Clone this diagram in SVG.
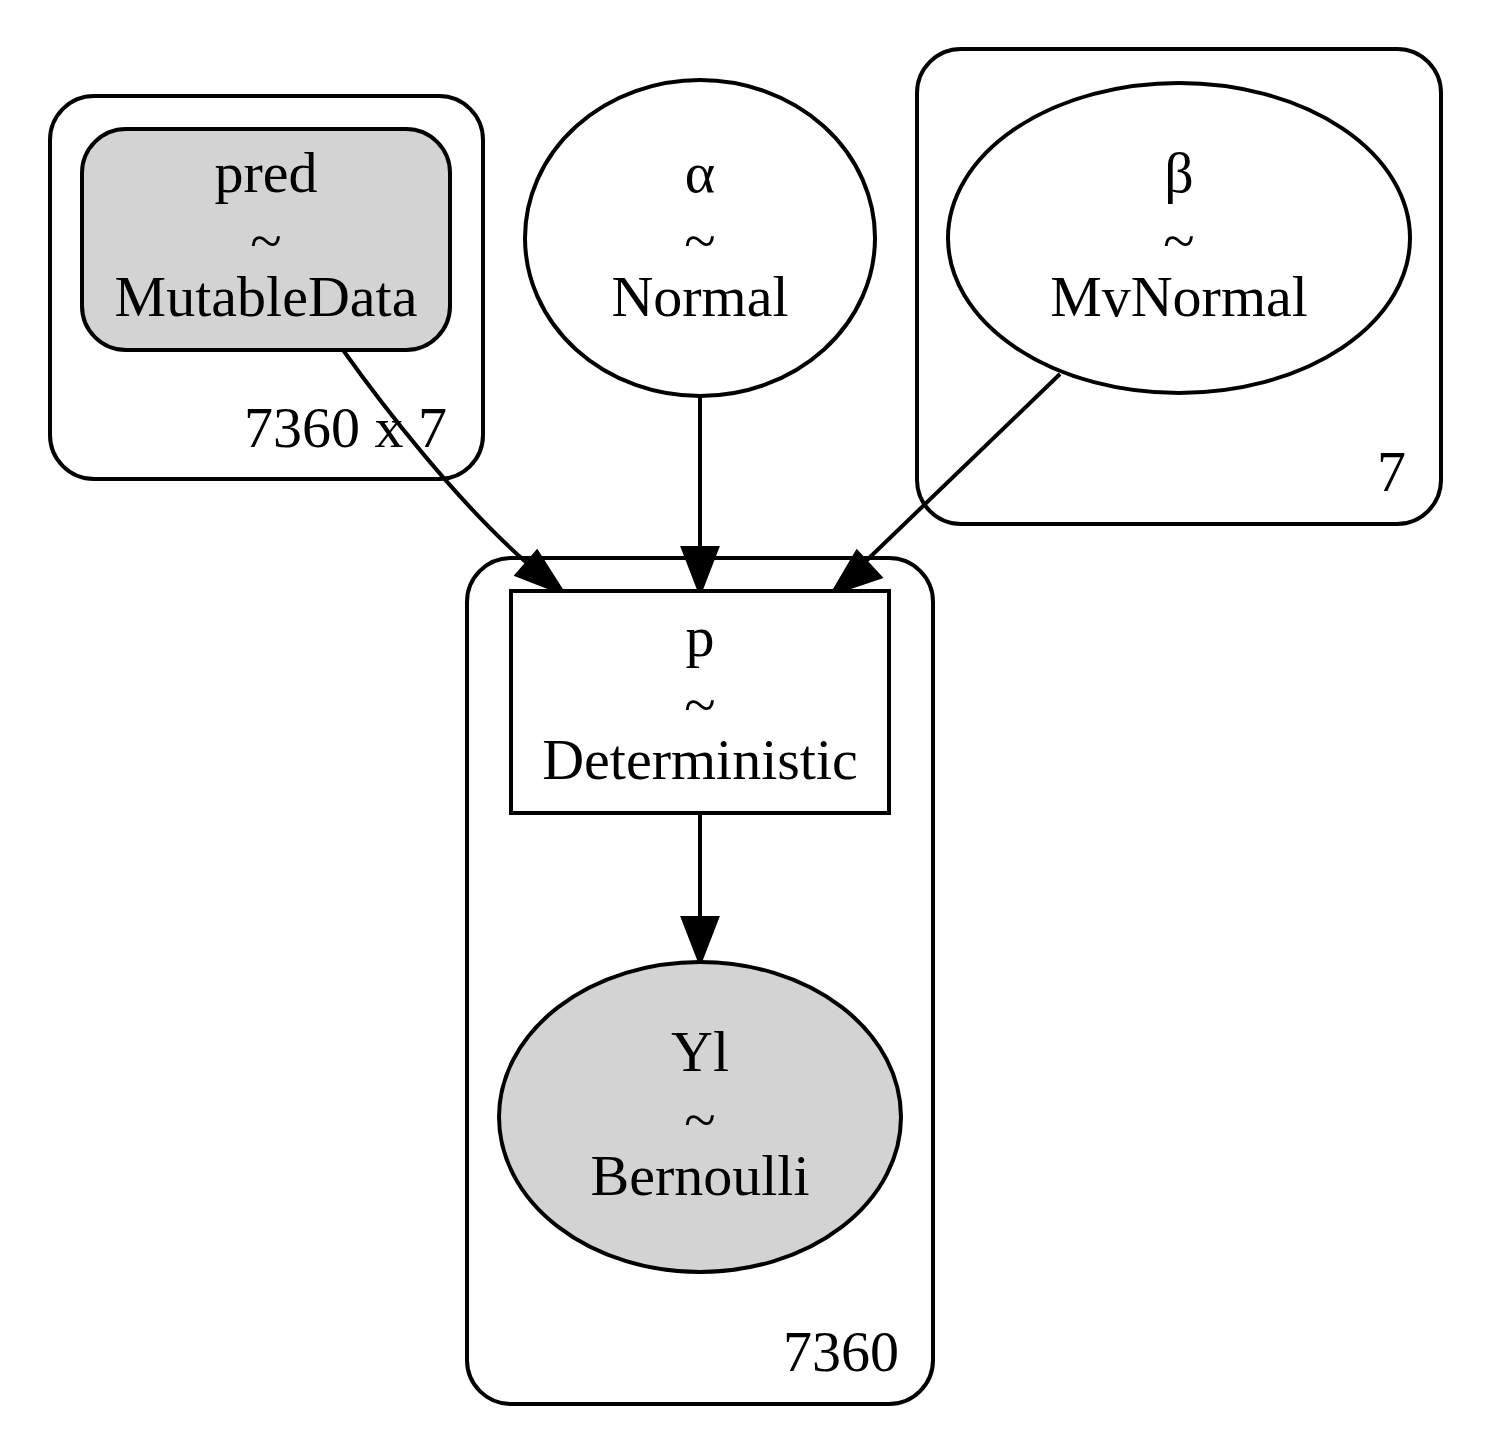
<svg xmlns="http://www.w3.org/2000/svg" width="1492" height="1454" viewBox="0 0 1492 1454">
<style>
.s{fill:none;stroke:#000;stroke-width:4}
.f{fill:#fff;stroke:#000;stroke-width:4}
.g{fill:#d3d3d3;stroke:#000;stroke-width:4}
.ah{fill:#000;stroke:#000;stroke-width:4}
text{font-family:"Liberation Serif","Times New Roman",serif;font-size:58px;fill:#000}
.c{text-anchor:middle}
.e{text-anchor:end}
</style>
<rect width="1492" height="1454" fill="#fff"/>
<g id="cluster_pred">
<rect class="s" x="50" y="96" width="433" height="383" rx="44" ry="44"/>
<text class="e" x="447" y="447">7360 x 7</text>
</g>
<g id="cluster_7">
<rect class="s" x="917" y="49" width="524" height="475" rx="44" ry="44"/>
<text class="e" x="1406" y="491">7</text>
</g>
<g id="cluster_7360">
<rect class="s" x="467" y="558" width="466" height="846" rx="44" ry="44"/>
<text class="e" x="899" y="1371">7360</text>
</g>
<g id="connectors">
<path class="s" d="M343,350 C380,402 455,500 527,563"/>
<polygon class="ah" points="537,552 517,575 563,593"/>
<path class="s" d="M700,396 L700,548"/>
<polygon class="ah" points="683,548 717,548 700,592"/>
<path class="s" d="M1060,374 L866,561"/>
<polygon class="ah" points="857,552 880,577 833,593"/>
<path class="s" d="M700,813 L700,918"/>
<polygon class="ah" points="683,918 717,918 700,962"/>
</g>
<g id="node_pred">
<rect class="g" x="82" y="129" width="368" height="221" rx="44" ry="44"/>
<text class="c" x="266" y="192">pred</text>
<text class="c" x="266" y="260">~</text>
<text class="c" x="266" y="316">MutableData</text>
</g>
<g id="node_alpha">
<ellipse class="f" cx="700" cy="238" rx="175" ry="158"/>
<text class="c" x="700" y="192">α</text>
<text class="c" x="700" y="260">~</text>
<text class="c" x="700" y="316">Normal</text>
</g>
<g id="node_beta">
<ellipse class="f" cx="1179" cy="238" rx="231" ry="155"/>
<text class="c" x="1179" y="192">β</text>
<text class="c" x="1179" y="260">~</text>
<text class="c" x="1179" y="316">MvNormal</text>
</g>
<g id="node_p">
<rect class="f" x="511" y="591" width="378" height="222"/>
<text class="c" x="700" y="656">p</text>
<text class="c" x="700" y="724">~</text>
<text class="c" x="700" y="779">Deterministic</text>
</g>
<g id="node_Yl">
<ellipse class="g" cx="700" cy="1117" rx="201" ry="155"/>
<text class="c" x="700" y="1071">Yl</text>
<text class="c" x="700" y="1139">~</text>
<text class="c" x="700" y="1195">Bernoulli</text>
</g>
</svg>
